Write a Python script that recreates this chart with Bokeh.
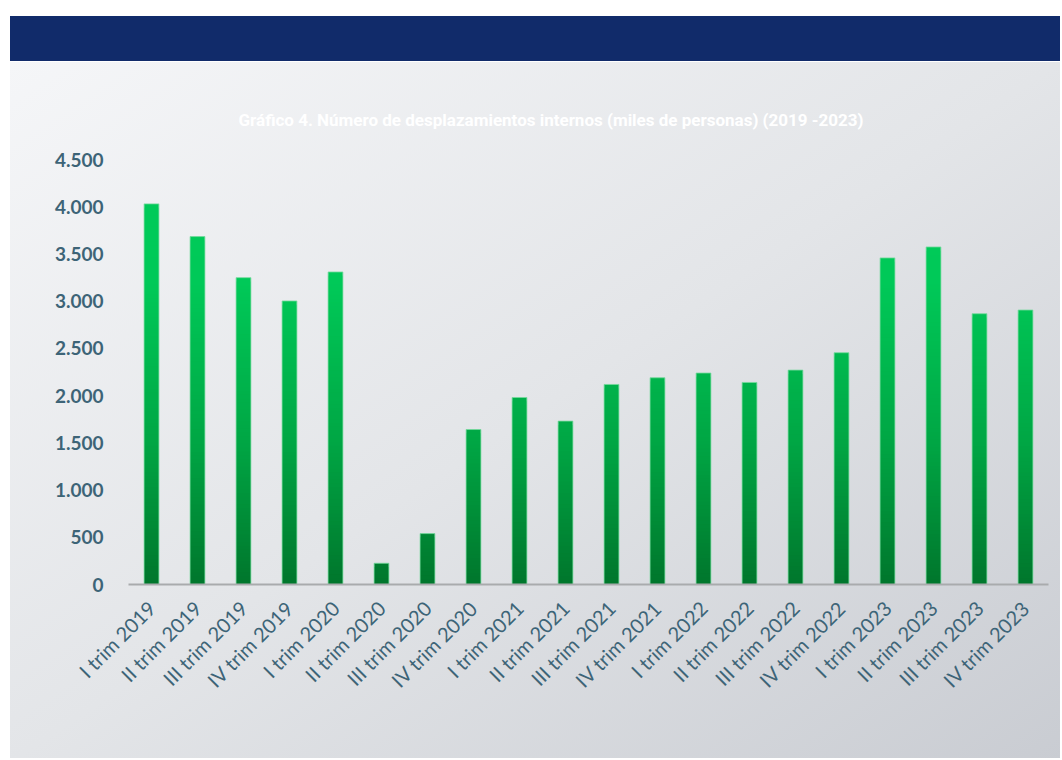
import math
from bokeh.plotting import figure
from bokeh.models import ColumnDataSource, FactorRange, Range1d, FixedTicker, InlineStyleSheet, Title
from bokeh.embed import file_html
from bokeh.resources import INLINE

# ---------------- data ----------------
categories = [
    "I trim 2019", "II trim 2019", "III trim 2019", "IV trim 2019",
    "I trim 2020", "II trim 2020", "III trim 2020", "IV trim 2020",
    "I trim 2021", "II trim 2021", "III trim 2021", "IV trim 2021",
    "I trim 2022", "II trim 2022", "III trim 2022", "IV trim 2022",
    "I trim 2023", "II trim 2023", "III trim 2023", "IV trim 2023",
]
values = [4030, 3684, 3249, 3002, 3309, 225, 539, 1641, 1980, 1730,
          2118, 2189, 2239, 2139, 2270, 2454, 3458, 3574, 2867, 2906]
y_ticks = [0, 500, 1000, 1500, 2000, 2500, 3000, 3500, 4000, 4500]
y_tick_labels = ["0", "500", "1.000", "1.500", "2.000", "2.500",
                 "3.000", "3.500", "4.000", "4.500"]
title_text = "Gráfico 4. Número de desplazamientos internos (miles de personas) (2019 -2023)"

# ---------------- styling ----------------
LABEL_COLOR = "#3d6477"
W, H = 1060, 758
Y_MAX = 4500
grad_stops = [(0, (0, 118, 44)), (1500, (0, 166, 68)), (3200, (0, 201, 88)), (6000, (0, 206, 92))]


def grad_color(v):
    for (v0, c0), (v1, c1) in zip(grad_stops[:-1], grad_stops[1:]):
        if v <= v1:
            t = (v - v0) / (v1 - v0)
            c = [round(a + (b - a) * t) for a, b in zip(c0, c1)]
            return "#%02x%02x%02x" % tuple(c)
    return "#%02x%02x%02x" % grad_stops[-1][1]


# build gradient slices (overlapping rects from 0 up to successive cut points)
step = 40
seg = {"x": [], "top": [], "color": []}
for cat, v in zip(categories, values):
    cut = v
    while cut > 0:
        seg["x"].append(cat)
        seg["top"].append(cut)
        seg["color"].append(grad_color(max(cut - step / 2, 0)))
        cut -= step
seg_src = ColumnDataSource(seg)

css = """
:host {
  background:
    linear-gradient(#112b6a, #112b6a) 10px 16px / calc(100% - 10px) 45px no-repeat,
    linear-gradient(to bottom right, #f5f6f8, #e3e5e8 50%, #c9ccd2) 10px 62px / calc(100% - 10px) 700px no-repeat,
    #ffffff;
}
"""

BORDER_L, BORDER_R, BORDER_T, BORDER_B = 128, 12, 159, 174
p = figure(
    width=W, height=H,
    x_range=FactorRange(factors=categories),
    y_range=Range1d(0, Y_MAX),
    output_backend="svg", toolbar_location=None,
    min_border_left=BORDER_L, min_border_right=BORDER_R,
    min_border_top=BORDER_T, min_border_bottom=BORDER_B,
    stylesheets=[InlineStyleSheet(css=css)],
)
p.border_fill_color = None
p.background_fill_color = None
p.outline_line_color = None
p.grid.visible = False

# default title unused
p.title.text = ""
p.title.text_font_size = "1px"
p.title.standoff = 0

# invisible spacer (nearest the frame) + real title (outer); together they fill the top border
p.add_layout(Title(text=".", text_font_size="1px", text_alpha=0, standoff=78), "above")
p.add_layout(Title(
    text=title_text, align="left", offset=110, standoff=60,
    text_color="white", text_font="Roboto", text_font_style="bold",
    text_font_size="17px",
), "above")

p.vbar(x="x", top="top", bottom=0, width=0.32, fill_color="color", line_color=None, source=seg_src)
p.vbar(x=categories, top=values, width=0.32, fill_color=None,
       line_color="#74d99c", line_width=1, line_alpha=0.8)

# y axis
p.yaxis.ticker = FixedTicker(ticks=y_ticks)
p.yaxis.major_label_overrides = {t: l for t, l in zip(y_ticks, y_tick_labels)}
p.yaxis.axis_line_color = None
p.yaxis.major_tick_line_color = None
p.yaxis.minor_tick_line_color = None
p.yaxis.major_tick_out = 0
p.yaxis.major_label_standoff = 25
p.yaxis.major_label_text_font = "Lato"
p.yaxis.major_label_text_font_style = "bold"
p.yaxis.major_label_text_font_size = "19px"
p.yaxis.major_label_text_color = LABEL_COLOR

# x axis
p.xaxis.axis_line_color = "#a9abad"
p.xaxis.axis_line_width = 2
p.xaxis.major_tick_line_color = None
p.xaxis.minor_tick_line_color = None
p.xaxis.major_tick_out = 0
p.xaxis.major_label_orientation = math.pi / 4
p.xaxis.major_label_standoff = 20
p.xaxis.major_label_text_font = "Lato"
p.xaxis.major_label_text_font_size = "20px"
p.xaxis.major_label_text_color = LABEL_COLOR

open("out.html", "w").write(file_html(p, INLINE))
